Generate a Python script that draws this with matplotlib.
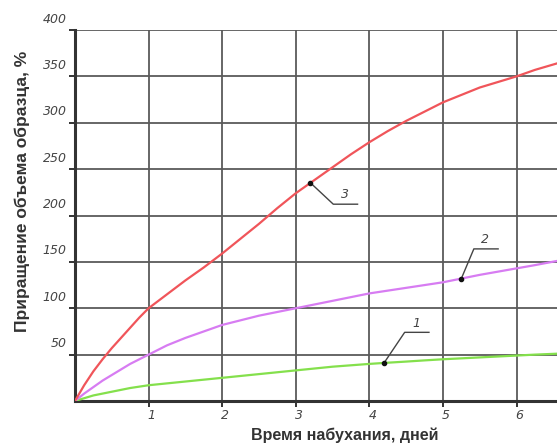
import matplotlib
matplotlib.use("Agg")
import matplotlib.pyplot as plt
import matplotlib.transforms as mtransforms

# ---------------------------------------------------------------
# Data (days vs volume increase, %)
# ---------------------------------------------------------------
days = [0, 0.125, 0.25, 0.375, 0.5, 0.625, 0.75, 0.875, 1,
        1.25, 1.5, 1.75, 2, 2.25, 2.5, 2.75, 3, 3.25, 3.5, 3.75, 4,
        4.25, 4.5, 4.75, 5, 5.25, 5.5, 5.75, 6, 6.25, 6.55]
curve1 = [0, 3, 6, 8, 10, 12, 14, 15.5, 17,
          19, 21, 23, 25, 27, 29, 31, 33, 35, 37, 38.5, 40,
          41.3, 42.5, 43.8, 45, 46, 47, 48, 49, 50, 51]
curve2 = [0, 8, 15, 22, 28, 34, 40, 45, 50,
          60, 68, 75, 82, 87, 92, 96, 100, 104, 108, 112, 116,
          119, 122, 125, 128, 132, 136, 139.5, 143, 146.5, 151]
curve3 = [0, 17, 32, 45, 57, 68, 79, 90, 100,
          115, 130, 144, 159, 175, 191, 208, 224, 238, 252, 266, 279,
          291, 302, 312, 322, 330, 338, 344, 350, 357, 364]

xticks = [1, 2, 3, 4, 5, 6]
yticks = [50, 100, 150, 200, 250, 300, 350, 400]

# leader labels: (curve, anchor x on the curve, knee offset, label)
labels = [
    (curve1, 4.2, (0.28, 33), "1"),
    (curve2, 5.25, (0.17, 32), "2"),
    (curve3, 3.2, (0.31, -23), "3"),
]

fig = plt.figure(figsize=(5.57, 4.48), dpi=100)
ax = fig.add_axes([0.1346, 0.1049, 0.8654, 0.8281])

c_red = "#f0555a"
c_pur = "#d77cf2"
c_grn = "#84e04c"

ax.plot(days, curve1, color=c_grn, lw=1.6, zorder=3)
ax.plot(days, curve2, color=c_pur, lw=1.6, zorder=3)
ax.plot(days, curve3, color=c_red, lw=1.6, zorder=3)

ax.set_xlim(0, 6.55)
ax.set_ylim(0, 400)

# grid
for x in xticks:
    ax.axvline(x, color="#5a5a5a", lw=1.3, zorder=1)
for y in yticks:
    ax.axhline(y, color="#5a5a5a", lw=1.3, zorder=1)

for s in ["top", "right"]:
    ax.spines[s].set_visible(False)
for s in ["left", "bottom"]:
    ax.spines[s].set_linewidth(2.2)
    ax.spines[s].set_color("#333333")

ax.set_xticks(xticks)
ax.set_yticks(yticks)
ax.set_xticklabels([str(v) for v in xticks])
ax.set_yticklabels([str(v) for v in yticks])
ax.tick_params(axis="both", length=4, width=1.4, color="#333333",
               labelsize=9, labelcolor="#444444", pad=2)

for lab in ax.get_yticklabels():
    lab.set_fontstyle("italic")
    lab.set_va("center")
    lab.set_transform(lab.get_transform() +
                      mtransforms.ScaledTranslation(0, 11 / 100, fig.dpi_scale_trans))
for lab in ax.get_xticklabels():
    lab.set_fontstyle("italic")
    lab.set_transform(lab.get_transform() +
                      mtransforms.ScaledTranslation(3 / 100, 0, fig.dpi_scale_trans))

# leader annotations
for data, x0, (dx, dy), txt in labels:
    y0 = None
    for i in range(len(days) - 1):
        if days[i] <= x0 <= days[i + 1]:
            f = (x0 - days[i]) / (days[i + 1] - days[i])
            y0 = data[i] + f * (data[i + 1] - data[i])
    x1, y1 = x0 + dx, y0 + dy
    x2 = x1 + 0.33
    ax.plot([x0, x1, x2], [y0, y1, y1], color="#444444", lw=1.0, zorder=4)
    ax.plot([x0], [y0], "o", color="#111111", ms=3, zorder=5)
    ax.text(x1 + 0.1, y1 + 3, txt, fontsize=9, fontstyle="italic",
            color="#444444", ha="left", va="bottom", zorder=5)

ax.set_xlabel("Время набухания, дней", fontsize=11.5, color="#333333",
              family="Liberation Sans", fontweight="bold", labelpad=4, x=0.56)
ax.set_ylabel("Приращение объема образца, %", fontsize=12.5, color="#333333",
              family="Liberation Sans", fontweight="bold", labelpad=9, y=0.566)

fig.savefig("out.png", dpi=100)
